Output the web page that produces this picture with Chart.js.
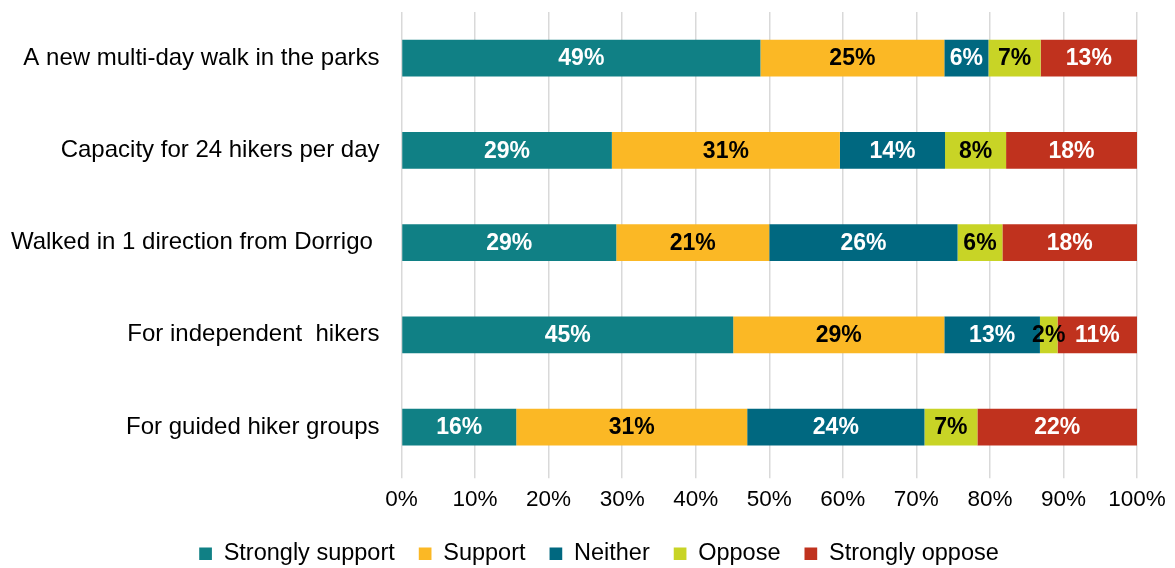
<!DOCTYPE html>
<html>
<head>
<meta charset="utf-8">
<script src="https://cdn.jsdelivr.net/npm/chart.js@4"></script>
<style>
  html, body { margin: 0; padding: 0; background: #fff; }
  #wrap { width: 1175px; height: 568px; position: relative; }
</style>
</head>
<body>
<div id="wrap"><canvas id="chart"></canvas></div>
<script>
// 100% stacked horizontal bars - support for the multi-day walk proposals
const categories = [
    'A new multi-day walk in the parks',
    'Capacity for 24 hikers per day',
    'Walked in 1 direction from Dorrigo ',
    'For independent  hikers',
    'For guided hiker groups'
];
const seriesNames = ['Strongly support', 'Support', 'Neither', 'Oppose', 'Strongly oppose'];
const stronglySupport = [48.8, 28.6, 29.2, 45.1, 15.6];
const support         = [25.0, 31.0, 20.8, 28.7, 31.4];
const neither         = [6.0, 14.3, 25.6, 13.0, 24.1];
const oppose          = [7.1, 8.3, 6.1, 2.4, 7.2];
const stronglyOppose  = [13.1, 17.8, 18.3, 10.8, 21.7];
const xTicks = [0, 10, 20, 30, 40, 50, 60, 70, 80, 90, 100];

const colors = ['#108085', '#FBB825', '#006880', '#C8D426', '#C0321E'];
const labelColors = ['#fff', '#000', '#fff', '#000', '#fff'];
const FONT = "'Liberation Sans', Arial, sans-serif";

// draws the rounded % inside each segment
const barLabels = {
    id: 'barLabels',
    afterDatasetsDraw(chart) {
        const ctx = chart.ctx;
        ctx.save();
        ctx.font = 'bold 23px ' + FONT;
        ctx.textAlign = 'center';
        ctx.textBaseline = 'middle';
        chart.data.datasets.forEach((ds, i) => {
            const meta = chart.getDatasetMeta(i);
            meta.data.forEach((bar, j) => {
                const v = ds.data[j];
                ctx.fillStyle = labelColors[i];
                ctx.fillText(Math.round(v) + '%', (bar.x + bar.base) / 2, bar.y + 1);
            });
        });
        ctx.restore();
    }
};

// legend sits a little right of the canvas centre in the original
const legendShift = {
    id: 'legendShift',
    afterLayout(chart) {
        chart.legend.left += 11.5;
        chart.legend.right += 11.5;
    }
};

const allSeries = [stronglySupport, support, neither, oppose, stronglyOppose];

new Chart(document.getElementById('chart'), {
    type: 'bar',
    data: {
        labels: categories,
        datasets: seriesNames.map((name, i) => ({
            label: name,
            data: allSeries[i],
            backgroundColor: colors[i],
            borderWidth: 0,
            barPercentage: 0.4,
            categoryPercentage: 1
        }))
    },
    options: {
        indexAxis: 'y',
        responsive: true,
        maintainAspectRatio: false,
        animation: false,
        layout: { padding: { left: 0, right: 0, top: 12, bottom: -7.5 } },
        plugins: {
            legend: {
                position: 'bottom',
                labels: {
                    boxWidth: 12.7, boxHeight: 12.7, padding: 24,
                    color: '#000', font: { family: FONT, size: 23.5 }
                }
            },
            tooltip: { enabled: false }
        },
        scales: {
            x: {
                stacked: true, min: 0, max: 100,
                afterBuildTicks: s => { s.ticks = xTicks.map(v => ({ value: v })); },
                afterFit: s => { s.paddingRight = 38; s.height = 44.8; },
                grid: { color: '#d9d9d9', lineWidth: 1.5, tickLength: 5 },
                border: { display: false },
                ticks: {
                    padding: 8, color: '#000', font: { family: FONT, size: 22.5 },
                    callback: v => v + '%'
                }
            },
            y: {
                stacked: true,
                afterFit: s => { s.width = 401.5; s.paddingTop = 0; s.paddingBottom = 0; },
                grid: { display: false, drawTicks: false },
                border: { display: false },
                ticks: { padding: 22, color: '#000', font: { family: FONT, size: 24 } }
            }
        }
    },
    plugins: [barLabels, legendShift]
});
</script>
</body>
</html>
